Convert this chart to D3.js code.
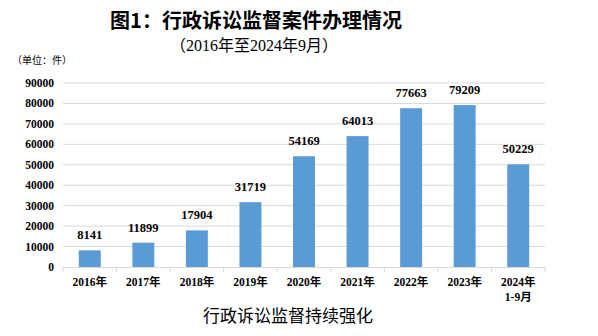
<!DOCTYPE html>
<html><head><meta charset="utf-8">
<script src="https://cdn.jsdelivr.net/npm/d3@7"></script>
<style>body{margin:0;background:#fff}</style>
</head><body>
<svg id="c" width="598" height="336"></svg>
<script>
const categories = ["2016年","2017年","2018年","2019年","2020年","2021年","2022年","2023年","2024年|1-9月"];
const values = [8141,11899,17904,31719,54169,64013,77663,79209,50229];
const yTicks = [0,10000,20000,30000,40000,50000,60000,70000,80000,90000];

const svg = d3.select("#c");
const L = 63, R = 545, T = 83, B = 267;
const x = d3.scaleBand().domain(categories).range([L, R]).paddingInner(0.59).paddingOuter(0.295);
const y = d3.scaleLinear().domain([0, 90000]).range([B, T]);
const serif = "'Liberation Serif','Times New Roman',serif";
const cjk = "'Liberation Serif','Noto Sans CJK SC',serif";

// gridlines
svg.append("g").selectAll("line").data(yTicks.slice(1)).join("line")
  .attr("x1", L).attr("x2", R).attr("y1", d => y(d)).attr("y2", d => y(d))
  .attr("stroke", "#d9d9d9").attr("stroke-width", 1);

// y labels
svg.append("g").selectAll("text").data(yTicks).join("text")
  .attr("x", 54).attr("y", d => y(d)).attr("dy", "0.35em").attr("text-anchor", "end")
  .attr("font-family", serif).attr("font-weight", "bold").attr("font-size", 11.5)
  .text(d => d);

// bars
svg.append("g").selectAll("rect").data(values).join("rect")
  .attr("x", (d, i) => x(categories[i])).attr("width", x.bandwidth())
  .attr("y", d => y(d)).attr("height", d => B - y(d)).attr("fill", "#5b9bd5");

// value labels
svg.append("g").selectAll("text").data(values).join("text")
  .attr("x", (d, i) => x(categories[i]) + x.bandwidth() / 2).attr("y", d => y(d) - 11)
  .attr("text-anchor", "middle").attr("font-family", serif).attr("font-weight", "bold").attr("font-size", 12.5)
  .text(d => d);

// x axis
const xa = svg.append("g");
xa.append("line").attr("x1", L).attr("x2", R).attr("y1", B + 0.5).attr("y2", B + 0.5).attr("stroke", "#d9d9d9");
const step = x.step();
const bounds = d3.range(categories.length + 1).map(i => L + i * (R - L) / categories.length);
xa.selectAll("line.t").data(bounds).join("line").attr("class", "t")
  .attr("x1", d => d).attr("x2", d => d).attr("y1", B).attr("y2", B + 5).attr("stroke", "#d9d9d9");
const xl = xa.selectAll("text").data(categories).join("text")
  .attr("x", d => x(d) + x.bandwidth() / 2).attr("y", 286)
  .attr("text-anchor", "middle").attr("font-family", cjk).attr("font-weight", "bold").attr("font-size", 11.5);
xl.each(function(d) {
  const parts = d.split("|");
  const t = d3.select(this);
  parts.forEach((p, i) => t.append("tspan").attr("x", t.attr("x")).attr("dy", i ? 15 : 0).text(p));
});

// titles
svg.append("text").attr("x", 256).attr("y", 28).attr("text-anchor", "middle")
  .attr("font-family", "'Noto Sans CJK SC',sans-serif").attr("font-weight", "bold").attr("font-size", 20)
  .text("图1：行政诉讼监督案件办理情况");
svg.append("text").attr("x", 254).attr("y", 51).attr("text-anchor", "middle")
  .attr("font-family", cjk).attr("font-size", 16)
  .text("（2016年至2024年9月）");
svg.append("text").attr("x", 12).attr("y", 64)
  .attr("font-family", cjk).attr("font-size", 10)
  .text("（单位：件）");
svg.append("text").attr("x", 288).attr("y", 322).attr("text-anchor", "middle")
  .attr("font-family", "'Noto Sans CJK SC',sans-serif").attr("font-size", 17)
  .text("行政诉讼监督持续强化");
</script>
</body></html>
